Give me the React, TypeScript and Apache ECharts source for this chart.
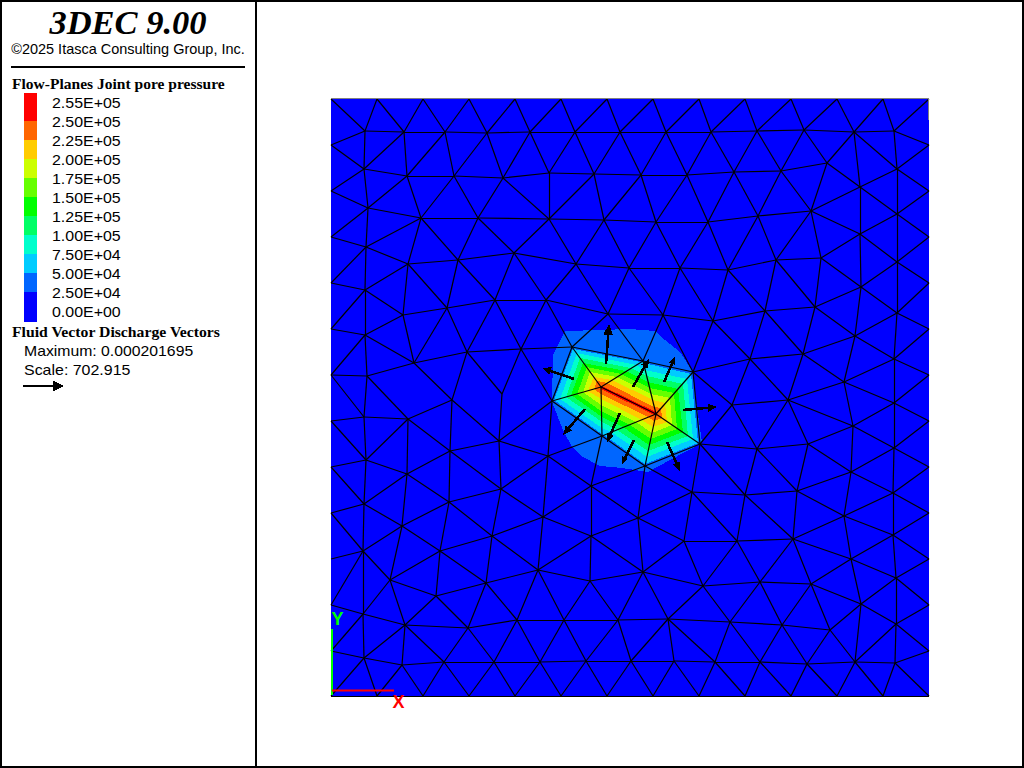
import React, { useEffect, useRef } from "react";
import * as echarts from "echarts";

// ---- Mesh nodes, [name, x, y] in plot units -------------------------------
const boundaryTop = [331, 377, 423, 469, 515, 561, 607, 653, 699, 745, 791, 837, 883, 929];
const boundarySide = [145, 191, 237, 283, 329, 375, 421, 467, 513, 559, 605, 651];
const plotX = [331, 929];
const plotY = [99, 696];

const interiorNodes: [string, number, number][] = [
  ["a1", 365, 131], ["a2", 404, 132], ["a3", 445, 132], ["a4", 487, 133], ["a5", 530, 132], ["a6", 575, 132], ["a7", 620, 132], ["a8", 666, 132], ["a9", 711, 132], ["a10", 757, 131], ["a11", 804, 130], ["a12", 854, 132], ["a13", 894, 131],
  ["b1", 364, 169], ["b2", 407, 176], ["b3", 454, 176], ["b4", 503, 178], ["b5", 549, 173], ["b6", 594, 174], ["b7", 641, 175], ["b8", 687, 175], ["b9", 734, 172], ["b10", 781, 171], ["b11", 827, 163], ["b12", 860, 187], ["b13", 897, 169],
  ["c1", 368, 208], ["c2", 421, 218], ["c3", 478, 218], ["c4", 549, 219], ["c5", 604, 220], ["c6", 656, 222], ["c7", 708, 222], ["c8", 758, 216], ["c9", 811, 211], ["c10", 860, 234], ["c11", 897, 214],
  ["d1", 366, 247], ["d2", 408, 264], ["d3", 458, 260], ["d4", 514, 253], ["d5", 576, 264], ["d6", 629, 268], ["d7", 680, 268], ["d8", 728, 270], ["d9", 776, 260], ["d10", 821, 258], ["d11", 861, 287], ["d12", 897, 262],
  ["e1", 365, 290], ["e2", 403, 315], ["e3", 447, 308], ["e4", 495, 300], ["e5", 546, 300], ["e6", 608, 314], ["e7", 663, 315], ["e8", 713, 321], ["e9", 765, 311], ["e10", 815, 307], ["e11", 897, 313],
  ["f1", 365, 335], ["f2", 414, 363], ["f3", 467, 352], ["f4", 521, 349], ["f5", 572, 347], ["f6", 643, 361], ["f7", 693, 372], ["f8", 750, 359], ["f9", 803, 354], ["f10", 855, 336], ["f11", 894, 359],
  ["g1", 367, 376], ["g2", 452, 400], ["g3", 502, 394], ["g4", 552, 401], ["g5", 601, 387], ["g6", 656, 414], ["g7", 732, 405], ["g8", 788, 400], ["g9", 844, 382], ["g10", 894, 403],
  ["h1", 364, 417], ["h2", 408, 419], ["h3", 450, 451], ["h4", 499, 441], ["h5", 548, 456], ["h6", 602, 436], ["h7", 700, 444], ["h8", 757, 449], ["h9", 808, 444], ["h10", 853, 426], ["h11", 894, 448],
  ["i1", 366, 460], ["i2", 407, 474], ["i3", 449, 502], ["i4", 501, 489], ["i5", 591, 486], ["i6", 645, 466], ["i7", 692, 492], ["i8", 745, 495], ["i9", 797, 491], ["i10", 851, 472], ["i11", 893, 493],
  ["j1", 364, 504], ["j2", 402, 526], ["j3", 492, 536], ["j4", 543, 517], ["j5", 591, 536], ["j6", 638, 518], ["j7", 684, 541], ["j8", 737, 541], ["j9", 793, 539], ["j10", 844, 516], ["j11", 893, 535],
  ["k1", 363, 551], ["k2", 440, 551], ["k3", 390, 580], ["k4", 436, 596], ["k5", 486, 583], ["k6", 538, 570], ["k7", 590, 581], ["k8", 643, 572], ["k9", 703, 586], ["k10", 760, 582], ["k11", 811, 584], ["k12", 851, 559], ["k13", 896, 578],
  ["l1", 363, 614], ["l2", 405, 625], ["l3", 468, 628], ["l4", 517, 620], ["l5", 564, 620], ["l6", 618, 620], ["l7", 668, 619], ["l8", 730, 622], ["l9", 782, 625], ["l10", 830, 630], ["l11", 861, 604], ["l12", 896, 624],
  ["m1", 364, 658], ["m2", 402, 665], ["m3", 444, 662], ["m4", 494, 662], ["m5", 540, 662], ["m6", 586, 661], ["m7", 631, 661], ["m8", 674, 661], ["m9", 715, 662], ["m10", 760, 662], ["m11", 807, 664], ["m12", 855, 662], ["m13", 895, 663],
];

// ---- Mesh connectivity (T top, B bottom, L left, R right boundary) ---------
const boundaryEdges =
  "T0-a1 T1-a1 T1-a2 T2-a2 T2-a3 T3-a3 T3-a4 T4-a4 T4-a5 T5-a5 T5-a6 T6-a6 T6-a7 T7-a7 T7-a8 T8-a8 T8-a9 T9-a9 T9-a10 T10-a10 T10-a11 T11-a11 T11-a12 T12-a12 T12-a13 T13-a13 " +
  "B0-m1 B1-m1 B1-m2 B2-m2 B2-m3 B3-m3 B3-m4 B4-m4 B4-m5 B5-m5 B5-m6 B6-m6 B6-m7 B7-m7 B7-m8 B8-m8 B8-m9 B9-m9 B9-m10 B10-m10 B10-m11 B11-m11 B11-m12 B12-m12 B12-m13 B13-m13 B0-B13 " +
  "L145-a1 L145-b1 L191-b1 L191-c1 L237-c1 L237-d1 L283-d1 L283-e1 L329-e1 L329-f1 L375-f1 L375-g1 L375-h1 L421-h1 L421-i1 L467-i1 L467-j1 L513-j1 L513-k1 L559-k1 L605-k1 L605-l1 L651-l1 L651-m1 " +
  "R145-a13 R145-b13 R191-b13 R191-c11 R237-c11 R237-d12 R283-d12 R283-e11 R329-e11 R329-f11 R375-f11 R375-g10 R421-g10 R421-h11 R467-h11 R467-i11 R513-i11 R513-j11 R559-j11 R559-k13 R605-k13 R605-l12 R651-l12 R651-m13";

const rowEdges =
  "a1-a2 a2-a3 a3-a4 a4-a5 a5-a6 a6-a7 a7-a8 a8-a9 a9-a10 a10-a11 a11-a12 a12-a13 " +
  "b1-b2 b2-b3 b3-b4 b4-b5 b5-b6 b6-b7 b7-b8 b8-b9 b9-b10 b10-b11 b11-b12 b12-b13 " +
  "c1-c2 c2-c3 c3-c4 c4-c5 c5-c6 c6-c7 c7-c8 c8-c9 c9-c10 c10-c11 " +
  "d1-d2 d2-d3 d3-d4 d4-d5 d5-d6 d6-d7 d7-d8 d8-d9 d9-d10 d10-d11 d11-d12 " +
  "e1-e2 e2-e3 e3-e4 e4-e5 e5-e6 e6-e7 e7-e8 e8-e9 e9-e10 " +
  "f1-f2 f2-f3 f3-f4 f4-f5 f5-f6 f6-f7 f7-f8 f8-f9 f9-f10 f10-f11 " +
  "g4-g5 g5-g6 g7-g8 g8-g9 g9-g10 " +
  "h1-h2 h2-h3 h3-h4 h4-h5 h5-h6 h7-h8 h8-h9 h9-h10 h10-h11 " +
  "i1-i2 i2-i3 i3-i4 i5-i6 i6-i7 i7-i8 i8-i9 i9-i10 i10-i11 " +
  "j1-j2 j3-j4 j4-j5 j5-j6 j6-j7 j7-j8 j8-j9 j9-j10 j10-j11 " +
  "k2-k3 k3-k4 k4-k5 k5-k6 k6-k7 k7-k8 k8-k9 k9-k10 k10-k11 k11-k12 k12-k13 " +
  "l1-l2 l2-l3 l3-l4 l4-l5 l5-l6 l6-l7 l7-l8 l8-l9 l9-l10 l10-l11 l11-l12 " +
  "m1-m2 m2-m3 m3-m4 m4-m5 m5-m6 m6-m7 m7-m8 m8-m9 m9-m10 m10-m11 m11-m12 m12-m13";

const crossEdges =
  "a1-b1 a2-b1 a2-b2 a3-b2 a3-b3 a4-b3 a4-b4 a5-b4 a5-b5 a6-b5 a6-b6 a7-b6 a7-b7 a8-b7 a8-b8 a9-b8 a9-b9 a10-b9 a10-b10 a11-b10 a11-b11 a12-b11 a12-b12 a12-b13 a13-b13 " +
  "b1-c1 b2-c1 b2-c2 b3-c2 b3-c3 b4-c3 b4-c4 b5-c4 b6-c4 b6-c5 b7-c5 b7-c6 b8-c6 b8-c7 b9-c7 b9-c8 b10-c8 b10-c9 b11-c9 b12-c9 b12-c10 b12-c11 b13-c11 " +
  "c1-d1 c2-d1 c2-d2 c2-d3 c3-d3 c3-d4 c4-d4 c4-d5 c5-d5 c5-d6 c6-d6 c6-d7 c7-d7 c7-d8 c8-d8 c8-d9 c9-d9 c9-d10 c10-d10 c10-d11 c10-d12 c11-d12 " +
  "d1-e1 d2-e1 d2-e2 d2-e3 d3-e3 d3-e4 d4-e4 d4-e5 d5-e5 d5-e6 d6-e6 d6-e7 d7-e7 d7-e8 d8-e8 d8-e9 d9-e9 d9-e10 d10-e10 d11-e10 d11-e11 d12-e11 d11-f10 " +
  "e1-f1 e2-f1 e2-f2 e3-f2 e3-f3 e4-f3 e4-f4 e5-f4 e5-f5 e6-f5 e6-f6 e7-f6 e7-f7 e8-f7 e8-f8 e9-f8 e9-f9 e10-f9 e10-f10 e11-f10 e11-f11 " +
  "f1-g1 f2-g1 f2-g2 f3-g2 f3-g3 f4-g3 f4-g4 f5-g4 f5-g5 f6-g5 f6-g6 f7-g6 f7-g7 f8-g7 f8-g8 f9-g8 f9-g9 f10-g9 f11-g9 f11-g10 " +
  "g1-h1 g1-h2 g2-h2 g2-h3 g2-h4 g3-h4 g4-h4 g4-h5 g4-h6 g5-h6 g6-h6 g6-h7 g6-i6 f7-h7 g7-h7 g7-h8 g8-h8 g8-h9 g8-h10 g9-h10 g10-h10 g10-h11 " +
  "h1-i1 h2-i1 h2-i2 h3-i2 h3-i3 h3-i4 h4-i4 h5-i4 h5-i5 h5-j4 h6-i5 h6-i6 h7-i6 h7-i7 h7-i8 h8-i8 h8-i9 h9-i9 h9-i10 h10-i10 h11-i10 h11-i11 " +
  "i1-j1 i2-j1 i2-j2 i3-j2 i3-j3 i3-k2 i4-j3 i4-j4 i5-j4 i5-j5 i5-j6 i6-j6 i7-j6 i7-j7 i7-j8 i8-j8 i8-j9 i9-j9 i9-j10 i10-j10 i11-j10 i11-j11 " +
  "j1-k1 j2-k1 j2-k2 j2-k3 j3-k2 j3-k5 j3-k6 j4-k6 j5-k6 j5-k7 j5-k8 j6-k8 j7-k8 j7-k9 j8-k9 j8-k10 j9-k10 j9-k11 j9-k12 j10-k12 j11-k12 j11-k13 " +
  "k1-k3 k1-l1 k2-k4 k2-k5 k3-l1 k3-l2 k4-l2 k4-l3 k5-l3 k5-l4 k6-l4 k6-l5 k7-l5 k7-l6 k8-l6 k8-l7 k9-l7 k9-l8 k10-l8 k10-l9 k11-l9 k11-l10 k11-l11 k12-l11 k13-l11 k13-l12 " +
  "l1-m1 l2-m1 l2-m2 l2-m3 l3-m3 l3-m4 l4-m4 l4-m5 l5-m5 l5-m6 l6-m6 l6-m7 l7-m7 l7-m8 l7-m9 l8-m9 l8-m10 l9-m10 l9-m11 l10-m11 l10-m12 l11-m12 l12-m12 l12-m13";

// ---- Pore pressure contour bands (outermost first) -------------------------
const band0066ff = [[565, 331], [600, 330], [630, 329], [655, 331], [665, 340], [680, 352], [693, 372], [696, 400], [702, 443], [670, 460], [648, 472], [622, 468], [600, 466], [583, 457], [572, 447], [563, 430], [552, 402], [553, 355], [558, 345]];
const band00ccff = [[573, 349], [641, 362], [644, 363], [691, 374], [698, 443], [645, 464], [604, 435], [602, 434], [554, 400]];
const band00ffcc = [[577, 353], [636, 365], [645, 370], [687, 379], [693, 439], [647, 457], [611, 432], [602, 428], [560, 399]];
const band00ff66 = [[580, 358], [631, 368], [647, 376], [683, 384], [688, 436], [648, 451], [617, 430], [602, 422], [566, 397]];
const band00ff00 = [[583, 363], [626, 371], [648, 382], [678, 389], [683, 432], [649, 445], [623, 427], [602, 417], [571, 395]];
const band66ff00 = [[587, 367], [621, 374], [650, 388], [674, 393], [677, 429], [651, 439], [630, 425], [601, 411], [577, 394]];
const bandccff00 = [[590, 372], [617, 377], [651, 394], [670, 398], [672, 425], [652, 433], [636, 422], [601, 405], [583, 392]];
const bandffcc00 = [[594, 377], [612, 380], [653, 400], [665, 403], [667, 422], [653, 427], [642, 420], [601, 399], [588, 391]];
const bandff6600 = [[597, 381], [607, 383], [654, 407], [661, 408], [662, 418], [654, 421], [648, 417], [601, 394], [594, 389]];
const bandff0000 = [[600, 386], [602, 386], [656, 412], [657, 413], [657, 415], [656, 416], [654, 415], [601, 389], [600, 387]];
const bandPolygons = [band0066ff, band00ccff, band00ffcc, band00ff66, band00ff00, band66ff00, bandccff00, bandffcc00, bandff6600, bandff0000];
const bandColors = ["#0066ff", "#00ccff", "#00ffcc", "#00ff66", "#00ff00", "#66ff00", "#ccff00", "#ffcc00", "#ff6600", "#ff0000"];

// ---- Discharge vectors: tail x, tail y, head x, head y ---------------------
const dischargeVectors = [
  [606, 364, 609, 324],
  [633, 387, 649, 359],
  [664, 382, 675, 357],
  [574, 379, 542, 368],
  [683, 410, 717, 407],
  [585, 409, 563, 435],
  [620, 413, 607, 442],
  [634, 440, 622, 464],
  [667, 442, 680, 471],
];

// ---- Legend ----------------------------------------------------------------
const legendLabels = ["2.55E+05", "2.50E+05", "2.25E+05", "2.00E+05", "1.75E+05", "1.50E+05", "1.25E+05", "1.00E+05", "7.50E+04", "5.00E+04", "2.50E+04", "0.00E+00"];
const legendColors = ["#ff0000", "#ff6600", "#ffcc00", "#ccff00", "#66ff00", "#00ff00", "#00ff66", "#00ffcc", "#00ccff", "#0066ff", "#0000ff"];
const legendEdges = [93, 121, 140, 159, 178, 197, 216, 235, 254, 273, 292, 322];

const SANS = '"Liberation Sans", Arial, sans-serif';
const SERIF = '"Liberation Serif", "Times New Roman", serif';

function nodeTable() {
  const table: Record<string, [number, number]> = {};
  boundaryTop.forEach((x, i) => {
    table["T" + i] = [x, plotY[0]];
    table["B" + i] = [x, plotY[1]];
  });
  boundarySide.forEach((y) => {
    table["L" + y] = [plotX[0], y];
    table["R" + y] = [plotX[1], y];
  });
  interiorNodes.forEach(([n, x, y]) => {
    table[n] = [x, y];
  });
  return table;
}

function meshLines() {
  const t = nodeTable();
  return (boundaryEdges + " " + rowEdges + " " + crossEdges)
    .split(" ")
    .filter(Boolean)
    .map((pair) => {
      const [a, b] = pair.split("-");
      return { coords: [t[a], t[b]] };
    });
}

function text(x: number, y: number, s: string, font: string, extra: any = {}, scaleX = 1) {
  return {
    type: "text",
    x,
    y,
    scaleX,
    z: 100,
    style: { text: s, font, fill: "#000", textVerticalAlign: "middle", textAlign: "left", ...extra },
  };
}

function line(x1: number, y1: number, x2: number, y2: number, stroke: string, lineWidth: number) {
  return { type: "line", z: 100, shape: { x1, y1, x2, y2 }, style: { stroke, lineWidth } };
}

function sidebar() {
  const els: any[] = [
    { type: "rect", z: 99, shape: { x: 1, y: 1, width: 1022, height: 766 }, style: { fill: "none", stroke: "#000", lineWidth: 2 } },
    line(256, 0, 256, 768, "#000", 2),
    text(128, 22, "3DEC 9.00", `italic bold 34.5px ${SERIF}`, { textAlign: "center" }),
    text(128, 49, "©2025 Itasca Consulting Group, Inc.", `14px ${SANS}`, { textAlign: "center" }, 1.035),
    line(11, 67, 245, 67, "#000", 2),
    text(12, 84, "Flow-Planes Joint pore pressure", `bold 14px ${SERIF}`, {}, 1.11),
    text(12, 332, "Fluid Vector Discharge Vectors", `bold 14px ${SERIF}`, {}, 1.124),
    text(24, 351, "Maximum: 0.000201695", `14px ${SANS}`, {}, 1.127),
    text(24, 370, "Scale: 702.915", `14px ${SANS}`, {}, 1.14),
    line(23, 386, 54, 386, "#000", 2),
    { type: "polygon", z: 100, shape: { points: [[53, 380.5], [64, 386], [53, 391.5]] }, style: { fill: "#000" } },
    // Plot frame slivers and coordinate triad
    line(331, 98.5, 929, 98.5, "#808080", 1),
    line(928.5, 98, 928.5, 120, "#808080", 1),
    line(332, 629, 332, 695, "#00ff00", 2),
    line(332, 690.5, 394, 690.5, "#ff0000", 2),
    text(337.5, 619, "Y", `bold 18px ${SANS}`, { fill: "#00ff00", textAlign: "center" }),
    text(398.5, 702, "X", `bold 18px ${SANS}`, { fill: "#ff0000", textAlign: "center" }),
  ];
  legendColors.forEach((c, i) => {
    els.push({
      type: "rect",
      z: 100,
      shape: { x: 24, y: legendEdges[i], width: 13, height: legendEdges[i + 1] - legendEdges[i] },
      style: { fill: c },
    });
  });
  legendLabels.forEach((l, i) => {
    els.push(text(52, 103 + i * 19, l, `14px ${SANS}`, {}, 1.14));
  });
  return els;
}

export default function App() {
  const ref = useRef<HTMLDivElement>(null);
  useEffect(() => {
    document.body.style.margin = "0";
    document.body.style.overflow = "hidden";
    const chart = echarts.init(ref.current!, undefined, { renderer: "svg" });
    chart.setOption({
      animation: false,
      backgroundColor: "#ffffff",
      grid: {
        show: true,
        left: plotX[0],
        top: plotY[0],
        width: plotX[1] - plotX[0],
        height: plotY[1] - plotY[0],
        backgroundColor: "#0000ff",
        borderWidth: 0,
      },
      xAxis: { type: "value", min: plotX[0], max: plotX[1], show: false },
      yAxis: { type: "value", min: plotY[0], max: plotY[1], inverse: true, show: false },
      graphic: sidebar(),
      series: [
        {
          type: "custom",
          coordinateSystem: "cartesian2d",
          silent: true,
          clip: false,
          z: 1,
          data: bandPolygons.map((_, i) => [i]),
          renderItem: (params: any, api: any) => ({
            type: "polygon",
            shape: { points: bandPolygons[params.dataIndex].map((p) => api.coord(p)) },
            style: { fill: bandColors[params.dataIndex] },
          }),
        },
        {
          type: "lines",
          coordinateSystem: "cartesian2d",
          silent: true,
          clip: false,
          z: 2,
          lineStyle: { color: "#000000", width: 1.2, opacity: 1 },
          data: meshLines(),
        },
        {
          type: "custom",
          coordinateSystem: "cartesian2d",
          silent: true,
          clip: false,
          z: 3,
          data: dischargeVectors,
          encode: { x: [0, 2], y: [1, 3] },
          renderItem: (_: any, api: any) => {
            const a = api.coord([api.value(0), api.value(1)]);
            const b = api.coord([api.value(2), api.value(3)]);
            const dx = b[0] - a[0];
            const dy = b[1] - a[1];
            const len = Math.hypot(dx, dy);
            const ux = dx / len;
            const uy = dy / len;
            const hl = len * 0.27;
            const hw = len * 0.12;
            const bx = b[0] - ux * hl;
            const by = b[1] - uy * hl;
            return {
              type: "group",
              children: [
                { type: "line", shape: { x1: a[0], y1: a[1], x2: bx, y2: by }, style: { stroke: "#000", lineWidth: 2.6 } },
                {
                  type: "polygon",
                  shape: { points: [b, [bx - uy * hw, by + ux * hw], [bx + uy * hw, by - ux * hw]] },
                  style: { fill: "#000" },
                },
              ],
            };
          },
        },
      ],
    });
    return () => chart.dispose();
  }, []);
  return (
    <>
      <style>{`svg path:not([fill="none"]) { shape-rendering: crispEdges; }`}</style>
      <div ref={ref} style={{ width: 1024, height: 768 }} />
    </>
  );
}
